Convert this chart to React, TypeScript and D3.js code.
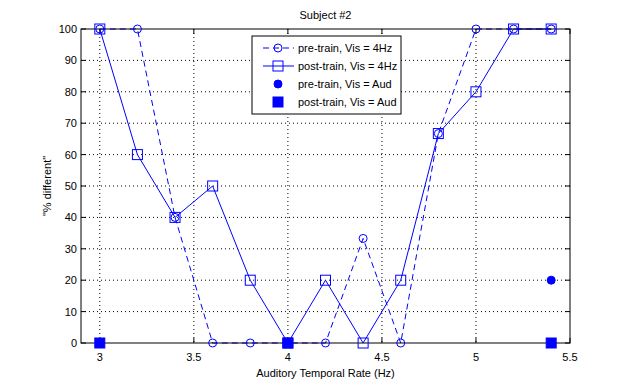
import React from "react";
import * as d3 from "d3";

const xValues = [3, 3.2, 3.4, 3.6, 3.8, 4.0, 4.2, 4.4, 4.6, 4.8, 5.0, 5.2, 5.4];
const preTrainVis = [100, 100, 40, 0, 0, 0, 0, 33.3, 0, 66.7, 100, 100, 100];
const postTrainVis = [100, 60, 40, 50, 20, 0, 20, 0, 20, 66.7, 80, 100, 100];
const audX = [3, 4, 5.4];
const preTrainAud = [0, 0, 20];
const postTrainAud = [0, 0, 0];
const xTicks = [3, 3.5, 4, 4.5, 5, 5.5];
const yTicks = [0, 10, 20, 30, 40, 50, 60, 70, 80, 90, 100];
const legendLabels = ["pre-train, Vis = 4Hz", "post-train, Vis = 4Hz", "pre-train, Vis = Aud", "post-train, Vis = Aud"];

const W = 630, H = 385;
const L = 81, R = 570, T = 29, B = 343;
const BLUE = "#0000ff";
const FONT = "'Liberation Sans', Arial, Helvetica, sans-serif";

export default function App() {
  const x = d3.scaleLinear().domain([2.9, 5.5]).range([L, R]);
  const y = d3.scaleLinear().domain([0, 100]).range([B, T]);
  const line = d3.line<number>().x((_, i) => x(xValues[i])).y((d) => y(d));

  const circle = (cx: number, cy: number, key: string, filled = false) => (
    <circle key={key} cx={cx} cy={cy} r={4} fill={filled ? BLUE : "none"} stroke={BLUE} strokeWidth={1} />
  );
  const square = (cx: number, cy: number, key: string, filled = false) => (
    <rect key={key} x={cx - 5} y={cy - 5} width={10} height={10} fill={filled ? BLUE : "none"} stroke={BLUE} strokeWidth={1} />
  );

  const legX = 252, legY = 36, legW = 149, legH = 78;
  const rowY = [48, 66, 84, 102];

  return (
    <svg width={W} height={H} style={{ position: "absolute", left: 0, top: 0, background: "#fff" }} fontFamily={FONT}>
      <rect x={0} y={0} width={W} height={H} fill="#fff" />
      {/* grid */}
      {xTicks.slice(0, -1).map((t) => (
        <line key={"gx" + t} x1={x(t)} x2={x(t)} y1={T} y2={B} stroke="#000" strokeWidth={1} strokeDasharray="1,3" />
      ))}
      {yTicks.slice(1, -1).map((t) => (
        <line key={"gy" + t} x1={L} x2={R} y1={y(t)} y2={y(t)} stroke="#000" strokeWidth={1} strokeDasharray="1,3" />
      ))}
      {/* ticks */}
      {xTicks.map((t) => (
        <g key={"tx" + t}>
          <line x1={x(t)} x2={x(t)} y1={B} y2={B - 5} stroke="#000" />
          <line x1={x(t)} x2={x(t)} y1={T} y2={T + 5} stroke="#000" />
          <text x={x(t)} y={B + 18} fontSize={11} textAnchor="middle">{t}</text>
        </g>
      ))}
      {yTicks.map((t) => (
        <g key={"ty" + t}>
          <line x1={L} x2={L + 5} y1={y(t)} y2={y(t)} stroke="#000" />
          <line x1={R} x2={R - 5} y1={y(t)} y2={y(t)} stroke="#000" />
          <text x={L - 4} y={y(t) + 4} fontSize={11} textAnchor="end">{t}</text>
        </g>
      ))}
      {/* data lines */}
      <path d={line(preTrainVis) || ""} fill="none" stroke={BLUE} strokeWidth={1} strokeDasharray="6,4" />
      <path d={line(postTrainVis) || ""} fill="none" stroke={BLUE} strokeWidth={1} />
      {/* axes box */}
      <rect x={L} y={T} width={R - L} height={B - T} fill="none" stroke="#000" strokeWidth={1} />
      {preTrainVis.map((v, i) => circle(x(xValues[i]), y(v), "pc" + i))}
      {postTrainVis.map((v, i) => square(x(xValues[i]), y(v), "ps" + i))}
      {preTrainAud.map((v, i) => circle(x(audX[i]), y(v), "ac" + i, true))}
      {postTrainAud.map((v, i) => square(x(audX[i]), y(v), "as" + i, true))}
      {/* labels */}
      <text x={(L + R) / 2} y={19} fontSize={11} textAnchor="middle">Subject #2</text>
      <text x={(L + R) / 2} y={377} fontSize={11} textAnchor="middle">Auditory Temporal Rate (Hz)</text>
      <text transform={`translate(51,${(T + B) / 2}) rotate(-90)`} fontSize={11} textAnchor="middle">"% different"</text>
      {/* legend */}
      <rect x={legX} y={legY} width={legW} height={legH} fill="#fff" stroke="#000" strokeWidth={1} />
      <line x1={263} x2={294} y1={rowY[0]} y2={rowY[0]} stroke={BLUE} strokeDasharray="6,4" />
      {circle(278, rowY[0], "lc1")}
      <line x1={263} x2={294} y1={rowY[1]} y2={rowY[1]} stroke={BLUE} />
      {square(278, rowY[1], "ls1")}
      {circle(278, rowY[2], "lc2", true)}
      {square(278, rowY[3], "ls2", true)}
      {legendLabels.map((s, i) => (
        <text key={"lt" + i} x={298} y={rowY[i] + 4} fontSize={11}>{s}</text>
      ))}
    </svg>
  );
}
